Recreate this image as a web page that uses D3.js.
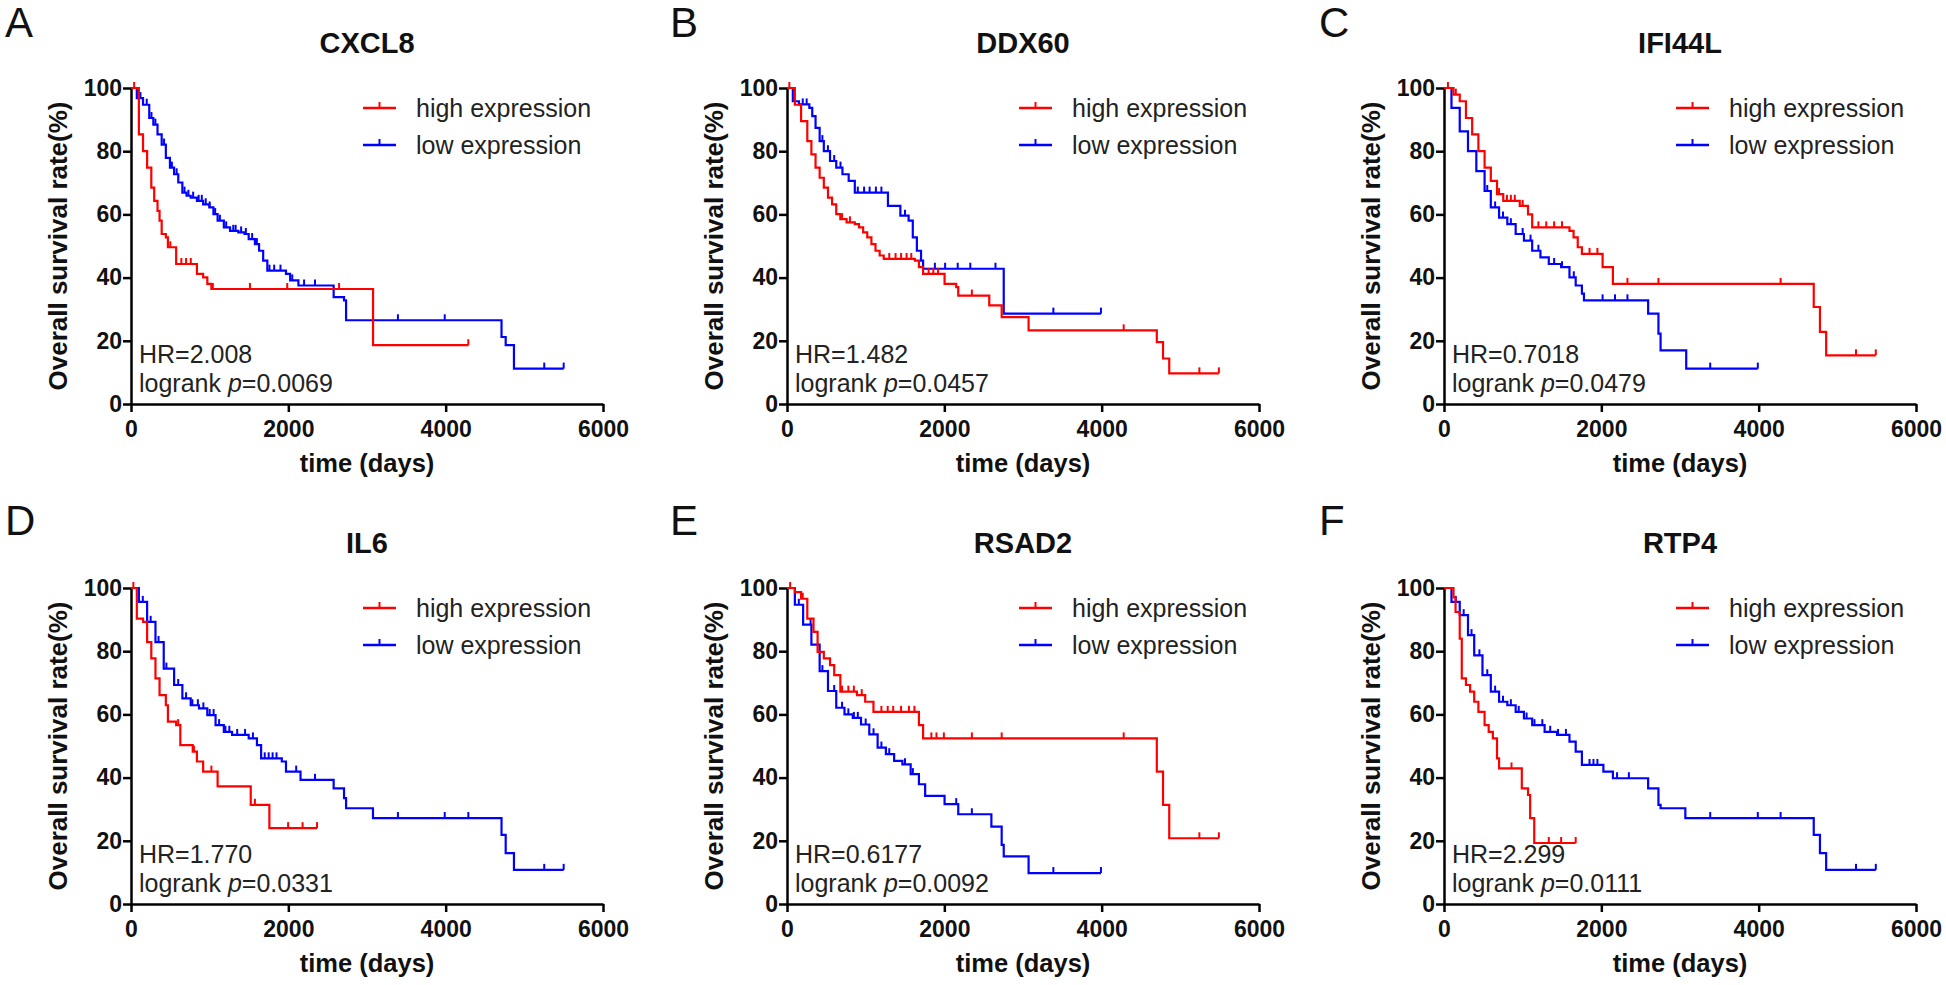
<!DOCTYPE html>
<html><head><meta charset="utf-8">
<script src="https://cdn.jsdelivr.net/npm/d3@7"></script>
<style>body{margin:0;background:#fff}svg{display:block}</style>
</head><body><svg id="chart" width="1946" height="985"></svg>
<script>
// ---------- data ----------
const genes = ["CXCL8", "DDX60", "IFI44L", "IL6", "RSAD2", "RTP4"];
const panelLetters = ["A", "B", "C", "D", "E", "F"];
const hrLabels = ["HR=2.008", "HR=1.482", "HR=0.7018", "HR=1.770", "HR=0.6177", "HR=2.299"];
const pLabels = ["=0.0069", "=0.0457", "=0.0479", "=0.0331", "=0.0092", "=0.0111"];
const seriesNames = ["high expression", "low expression"];
const xTicks = [0, 2000, 4000, 6000];
const yTicks = [0, 20, 40, 60, 80, 100];

// [time (days), survival %] after each step
const cxcl8High = [[0,100],[100,85.3],[153,80],[205,74.8],[258,68.5],[295,64.3],[337,61.1],[363,58],[390,53.8],[443,52.7],[469,49.6],[574,44.3],[838,41.2],[917,40.1],[970,38],[1022,36.4],[3077,18.6],[4288,18.6]];
const cxcl8HighCens = [40,500,640,700,760,1040,1512,1986,2645,4288];
const cxcl8Low = [[0,100],[74,96.8],[153,94.7],[232,90.5],[284,88.4],[337,85.3],[390,82.1],[443,77.9],[495,74.8],[548,72.7],[601,70.1],[653,66.9],[706,65.9],[759,65.3],[838,64.3],[917,63.2],[996,62.2],[1048,60.1],[1101,58],[1180,55.9],[1259,54.8],[1364,54.3],[1443,53.8],[1496,52.2],[1575,50.6],[1628,48.5],[1680,45.4],[1733,42.2],[1970,41.2],[2023,39.1],[2128,37.5],[2576,33.8],[2708,32.8],[2734,26.5],[4710,21.2],[4763,18.6],[4868,11.2],[5500,11.2]];
const cxcl8LowCens = [120,200,260,310,420,520,580,680,730,790,860,900,950,1000,1070,1130,1210,1300,1330,1400,1460,1540,1600,1760,1820,1900,2050,2200,2339,3393,3988,5253,5500];

const ddx60High = [[0,100],[100,94.7],[179,89.5],[258,83.2],[310,79],[363,74.8],[415,71.6],[468,68.5],[521,65.3],[573,63.2],[626,60.1],[678,58.5],[757,57.5],[862,56.9],[915,55.9],[968,54.3],[1020,52.7],[1073,50.6],[1125,48.5],[1178,47],[1230,45.9],[1625,45.4],[1677,43.3],[1730,41.2],[2003,38],[2151,37],[2177,34.3],[2571,31.2],[2729,27.5],[3071,23.3],[4701,19.6],[4780,14.4],[4859,9.7],[5490,9.7]];
const ddx60HighCens = [30,700,800,1300,1380,1450,1520,1580,1800,1860,1920,2350,4280,5242,5490];
const ddx60Low = [[0,100],[74,95.8],[152,94.8],[284,93.7],[321,91.1],[363,87.4],[415,83.2],[468,80],[547,76.9],[626,74.8],[705,72.7],[784,70.6],[862,66.9],[1283,62.7],[1441,59.6],[1546,58],[1599,52.7],[1651,48.5],[1704,45.4],[1730,42.8],[2755,28.6],[3991,28.6]];
const ddx60LowCens = [200,250,450,520,600,680,900,980,1050,1130,1200,1500,1880,2010,2170,2330,2650,3386,3991];

const ifi44lHigh = [[0,100],[121,97.9],[200,95.8],[279,90.5],[358,85.3],[437,80],[516,74.8],[595,70.6],[674,66.4],[753,64.3],[963,62.7],[1068,60],[1121,55.9],[1595,54.8],[1647,52.7],[1700,49.6],[1753,47.5],[2016,43.3],[2147,38],[4700,30.7],[4779,22.8],[4858,15.4],[5489,15.4]];
const ifi44lHighCens = [50,150,700,800,850,900,1000,1200,1300,1400,1500,1850,1950,2332,2726,4279,5237,5489];
const ifi44lLow = [[0,100],[95,93.7],[200,86.3],[305,80],[411,73.7],[516,67.4],[595,62.2],[700,59],[805,56.9],[911,53.8],[1016,51.7],[1121,48.5],[1226,46.4],[1332,44.3],[1489,43.3],[1595,40.1],[1674,37.5],[1753,34.9],[1779,32.8],[2595,28.6],[2726,22.3],[2753,17],[3079,11.2],[3989,11.2]];
const ifi44lLowCens = [550,650,750,850,1000,1100,1200,1400,1500,1650,2016,2174,2332,3384,3989];

const il6High = [[0,100],[74,90.3],[153,89.3],[205,82.9],[258,77.7],[311,71.4],[363,66.1],[443,62.9],[469,57.7],[574,56.6],[627,50.3],[785,48.2],[838,45.1],[917,41.9],[1101,37.2],[1522,31.4],[1759,24],[2365,24]];
const il6HighCens = [30,600,800,1022,1575,1997,2181,2365];
const il6Low = [[0,100],[100,95.6],[205,89.3],[311,82.9],[416,74.5],[548,69.3],[653,65.1],[759,62.9],[864,61.9],[970,59.8],[1075,56.6],[1180,54.5],[1285,53.5],[1496,52.4],[1601,50.3],[1654,46.1],[1917,45.1],[1970,41.9],[2155,39.3],[2576,36.6],[2708,33.5],[2734,30.3],[3076,27.2],[4710,21.9],[4763,16.1],[4868,10.8],[5500,10.8]];
const il6LowCens = [150,250,350,450,600,700,780,850,920,1000,1050,1120,1200,1250,1350,1450,1550,1700,1750,1800,1850,2100,2339,3393,3988,4288,5253,5500];

const rsad2High = [[0,100],[100,98.7],[179,96.6],[258,90.3],[337,86.1],[389,79.8],[468,77.7],[547,75.6],[600,72.4],[678,67.2],[889,66.1],[994,64],[1099,60.8],[1677,56.6],[1730,52.4],[4701,41.9],[4780,31.4],[4859,20.8],[5490,20.8]];
const rsad2HighCens = [40,200,700,780,850,950,1200,1280,1350,1450,1550,1620,1835,1900,1994,2350,2729,4280,5242,5490];
const rsad2Low = [[0,100],[100,94.7],[205,88.4],[310,82.1],[415,73.7],[521,67.4],[626,62.1],[731,60],[836,58.9],[941,56.8],[1046,53.7],[1152,49.5],[1257,47.4],[1362,45.3],[1467,44.2],[1572,41.1],[1677,37.9],[1756,34.2],[2003,31.6],[2177,28.4],[2598,24.5],[2729,18.7],[2755,15.1],[3071,9.8],[3991,9.8]];
const rsad2LowCens = [150,300,450,600,700,780,850,900,1000,1100,1200,1300,1500,1600,2151,2350,3386,3991];

const rtp4High = [[0,100],[121,97],[147,92.4],[200,84],[226,71.4],[279,69.3],[332,67.2],[384,64],[437,60.8],[516,56.6],[568,54.5],[621,52.4],[674,46.1],[700,42.9],[989,36.6],[1068,34.5],[1095,27.2],[1147,19.3],[1674,19.3]];
const rtp4HighCens = [858,1332,1489,1674];
const rtp4Low = [[0,100],[95,95.6],[200,91.4],[305,85.1],[384,78.7],[489,72.4],[595,67.2],[700,64],[805,62.9],[911,60.8],[1016,58.7],[1121,56.6],[1279,54.5],[1437,53.5],[1595,51.4],[1674,48.2],[1753,44],[2026,41.9],[2147,39.8],[2595,36.6],[2726,31.4],[2753,30.3],[3068,27.2],[4700,21.9],[4779,16.1],[4858,10.8],[5489,10.8]];
const rtp4LowCens = [150,250,350,450,550,650,750,850,950,1050,1150,1250,1350,1450,1550,1850,1900,1950,2200,2350,3384,3989,4279,5237,5489];

const highCurves = [cxcl8High, ddx60High, ifi44lHigh, il6High, rsad2High, rtp4High];
const highCensors = [cxcl8HighCens, ddx60HighCens, ifi44lHighCens, il6HighCens, rsad2HighCens, rtp4HighCens];
const lowCurves = [cxcl8Low, ddx60Low, ifi44lLow, il6Low, rsad2Low, rtp4Low];
const lowCensors = [cxcl8LowCens, ddx60LowCens, ifi44lLowCens, il6LowCens, rsad2LowCens, rtp4LowCens];

// ---------- layout ----------
const colLeft = [131, 787, 1444];
const plotW = 472;
const rowTop = [88, 588];
const plotH = 316;
const letterX = [5, 670, 1319];
const letterY = [37, 535];
const RED = "#ff0000", BLUE = "#0000ff";
const FONT = "'Liberation Sans', Arial, sans-serif";

const svg = d3.select("#chart");

function survAt(curve, t) {
  let v = curve[0][1];
  for (const p of curve) if (p[0] <= t) v = p[1];
  return v;
}

genes.forEach((gene, i) => {
  const col = i % 3, row = Math.floor(i / 3);
  const L = colLeft[col], R = L + plotW, T = rowTop[row], B = T + plotH;
  const x = d3.scaleLinear().domain([0, 6000]).range([L, R]);
  const y = d3.scaleLinear().domain([0, 100]).range([B, T]);
  const g = svg.append("g").attr("font-family", FONT);

  // panel letter
  g.append("text").attr("x", letterX[col]).attr("y", letterY[row])
    .attr("font-size", 42).attr("fill", "#111").text(panelLetters[i]);
  // title
  g.append("text").attr("x", (L + R) / 2).attr("y", T - 45).attr("dy", "0.35em")
    .attr("text-anchor", "middle").attr("font-size", 29).attr("font-weight", "bold")
    .attr("fill", "#111").text(gene);

  // axes
  const xa = g.append("g").attr("transform", `translate(0,${B})`)
    .call(d3.axisBottom(x).tickValues(xTicks).tickSize(8).tickSizeOuter(0).tickPadding(9).tickFormat(d3.format("d")));
  const ya = g.append("g").attr("transform", `translate(${L},0)`)
    .call(d3.axisLeft(y).tickValues(yTicks).tickSize(8).tickSizeOuter(0).tickPadding(1).tickFormat(d3.format("d")));
  [xa, ya].forEach(a => {
    a.select(".domain").attr("stroke", "#000").attr("stroke-width", 2.5);
    a.selectAll(".tick line").attr("stroke", "#000").attr("stroke-width", 2.5);
    a.selectAll(".tick text").attr("font-family", FONT).attr("font-size", 23)
      .attr("font-weight", "bold").attr("fill", "#111");
  });

  // axis titles
  g.append("text").attr("x", (L + R) / 2).attr("y", B + 59).attr("dy", "0.35em")
    .attr("text-anchor", "middle").attr("font-size", 25.5).attr("font-weight", "bold")
    .attr("fill", "#111").text("time (days)");
  g.append("text").attr("transform", `translate(${L - 73},${(T + B) / 2}) rotate(-90)`)
    .attr("dy", "0.35em").attr("text-anchor", "middle").attr("font-size", 26)
    .attr("font-weight", "bold").attr("fill", "#111").text("Overall survival rate(%)");

  // curves
  const line = d3.line().x(d => x(d[0])).y(d => y(d[1])).curve(d3.curveStepAfter);
  const series = [
    { curve: lowCurves[i], cens: lowCensors[i], color: BLUE },
    { curve: highCurves[i], cens: highCensors[i], color: RED }
  ];
  series.forEach(s => {
    g.append("path").datum(s.curve).attr("d", line).attr("fill", "none")
      .attr("stroke", s.color).attr("stroke-width", 2.2);
    g.selectAll(null).data(s.cens).enter().append("line")
      .attr("x1", t => x(t)).attr("x2", t => x(t))
      .attr("y1", t => y(survAt(s.curve, t)))
      .attr("y2", t => y(survAt(s.curve, t)) - 6)
      .attr("stroke", s.color).attr("stroke-width", 2);
  });

  // legend
  [RED, BLUE].forEach((c, k) => {
    const ly = T + 20 + k * 37;
    g.append("line").attr("x1", L + 232).attr("x2", L + 265).attr("y1", ly).attr("y2", ly)
      .attr("stroke", c).attr("stroke-width", 2.5);
    g.append("line").attr("x1", L + 248.5).attr("x2", L + 248.5).attr("y1", ly).attr("y2", ly - 6)
      .attr("stroke", c).attr("stroke-width", 2);
    g.append("text").attr("x", L + 285).attr("y", ly).attr("dy", "0.35em")
      .attr("font-size", 25).attr("fill", "#222").text(seriesNames[k]);
  });

  // HR / p annotation
  g.append("text").attr("x", L + 8).attr("y", B - 50).attr("dy", "0.35em")
    .attr("font-size", 25).attr("fill", "#222").text(hrLabels[i]);
  const pt = g.append("text").attr("x", L + 8).attr("y", B - 21).attr("dy", "0.35em")
    .attr("font-size", 25).attr("fill", "#222");
  pt.append("tspan").text("logrank ");
  pt.append("tspan").attr("font-style", "italic").text("p");
  pt.append("tspan").text(pLabels[i]);
});
</script>
</body></html>
